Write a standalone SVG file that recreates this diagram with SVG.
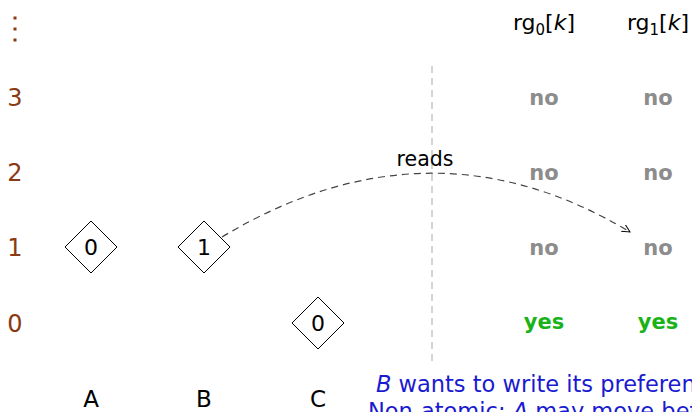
<svg xmlns="http://www.w3.org/2000/svg" width="692" height="412" viewBox="0 0 692 412">
<style>
text{font-family:"DejaVu Sans","Liberation Sans",sans-serif;}
.row{fill:#8a3a12;font-size:24px;text-anchor:middle;}
.col{fill:#000;font-size:23px;text-anchor:middle;}
.dia{fill:#fff;stroke:#000;stroke-width:1;}
.dig{fill:#000;font-size:22px;text-anchor:middle;}
.no{fill:#8c8c8c;font-size:21px;font-weight:bold;text-anchor:middle;}
.yes{fill:#19b319;font-size:21px;font-weight:bold;text-anchor:middle;}
.hdr{fill:#000;font-size:22px;text-anchor:middle;}
.note{fill:#1a1ad0;font-size:22.5px;}
</style>
<defs>
<marker id="ah" markerWidth="10" markerHeight="8" refX="8" refY="4" orient="auto" markerUnits="userSpaceOnUse">
<path d="M0,0 L8,4 L0,8" fill="none" stroke="#000" stroke-width="1"/>
</marker>
</defs>
<rect width="692" height="412" fill="#fff"/>
<g id="rowlabels">
<rect x="13.5" y="16.5" width="3" height="3" fill="#8a3a12"/>
<rect x="13.5" y="27.5" width="3" height="3" fill="#8a3a12"/>
<rect x="13.5" y="38.5" width="3" height="3" fill="#8a3a12"/>
<text class="row" x="15" y="106">3</text>
<text class="row" x="15" y="181">2</text>
<text class="row" x="15" y="256">1</text>
<text class="row" x="15" y="332">0</text>
</g>
<g id="collabels">
<text class="col" x="91" y="407">A</text>
<text class="col" x="204" y="407">B</text>
<text class="col" x="318" y="407">C</text>
</g>
<g id="divider">
<line x1="432" y1="66" x2="432" y2="362" stroke="#aaa" stroke-width="1" stroke-dasharray="7,5"/>
</g>
<g id="nodeA">
<polygon class="dia" points="91,221 117,247 91,273 65,247"/>
<text class="dig" x="91" y="255">0</text>
</g>
<g id="nodeB">
<polygon class="dia" points="204,221 230,247 204,273 178,247"/>
<text class="dig" x="204" y="255">1</text>
</g>
<g id="nodeC">
<polygon class="dia" points="318,297 344,323 318,349 292,323"/>
<text class="dig" x="318" y="331">0</text>
</g>
<g id="headers">
<text class="hdr" x="544" y="30">rg<tspan font-size="15" dy="5">0</tspan><tspan dy="-5">[</tspan><tspan font-style="italic">k</tspan>]</text>
<text class="hdr" x="658" y="30">rg<tspan font-size="15" dy="5">1</tspan><tspan dy="-5">[</tspan><tspan font-style="italic">k</tspan>]</text>
</g>
<g id="table">
<text class="no" x="544" y="105">no</text>
<text class="no" x="658" y="105">no</text>
<text class="no" x="544" y="180">no</text>
<text class="no" x="658" y="180">no</text>
<text class="no" x="544" y="255">no</text>
<text class="no" x="658" y="255">no</text>
<text class="yes" x="544" y="329">yes</text>
<text class="yes" x="658" y="329">yes</text>
</g>
<g id="connectors">
<path d="M222,237 Q430,112 630,232" fill="none" stroke="#444" stroke-width="1.2" stroke-dasharray="7,5" marker-end="url(#ah)"/>
<text x="425" y="166" fill="#000" font-size="20.5" text-anchor="middle">reads</text>
</g>
<g id="note">
<text class="note" x="376" y="392"><tspan font-style="italic">B</tspan> wants to write its preference</text>
<text class="note" x="368" y="419">Non-atomic: <tspan font-style="italic">A</tspan> may move before</text>
</g>
</svg>
